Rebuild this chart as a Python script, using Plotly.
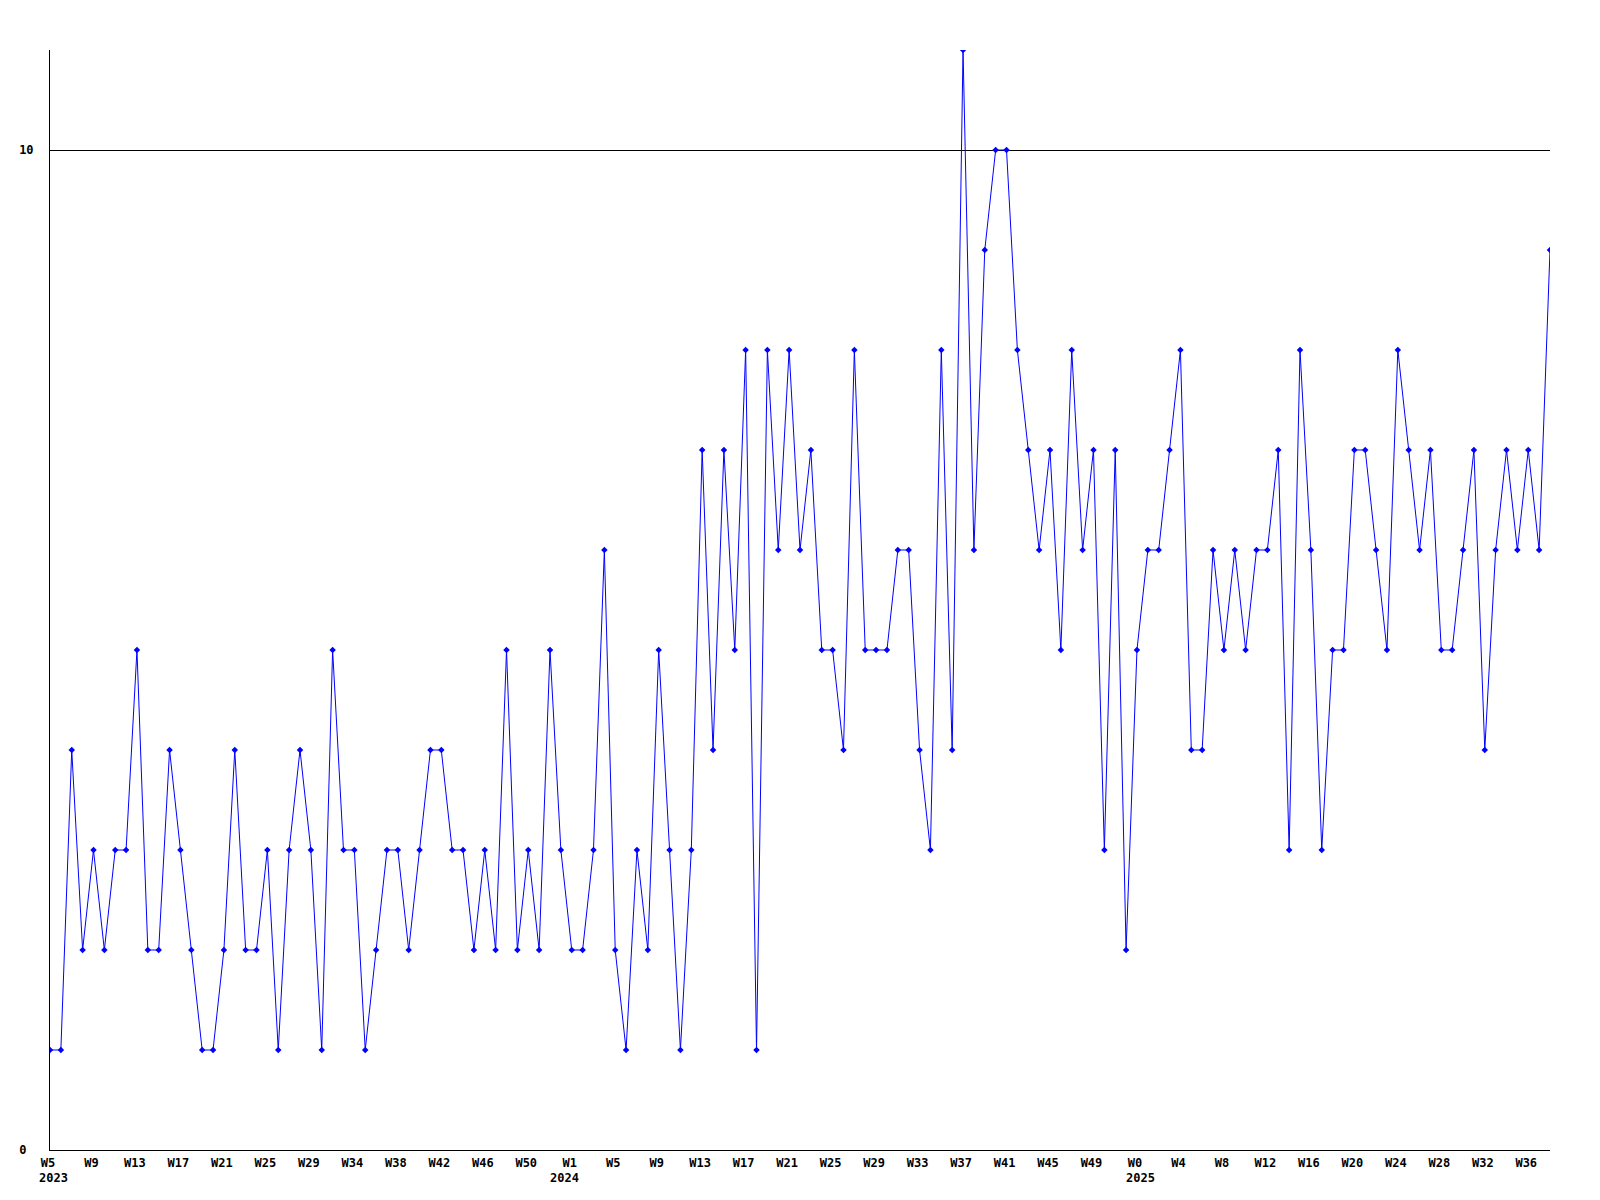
import plotly.graph_objects as go

values = [1, 1, 4, 2, 3, 2, 3, 3, 5, 2,
          2, 4, 3, 2, 1, 1, 2, 4, 2, 2,
          3, 1, 3, 4, 3, 1, 5, 3, 3, 1,
          2, 3, 3, 2, 3, 4, 4, 3, 3, 2,
          3, 2, 5, 2, 3, 2, 5, 3, 2, 2,
          3, 6, 2, 1, 3, 2, 5, 3, 1, 3,
          7, 4, 7, 5, 8, 1, 8, 6, 8, 6,
          7, 5, 5, 4, 8, 5, 5, 5, 6, 6,
          4, 3, 8, 4, 11, 6, 9, 10, 10, 8,
          7, 6, 7, 5, 8, 6, 7, 3, 7, 2,
          5, 6, 6, 7, 8, 4, 4, 6, 5, 6,
          5, 6, 6, 7, 3, 8, 6, 3, 5, 5,
          7, 7, 6, 5, 8, 7, 6, 7, 5, 5,
          6, 7, 4, 6, 7, 6, 7, 6, 9]

tick_labels = ["W5", "W9", "W13", "W17", "W21", "W25", "W29", "W34", "W38",
               "W42", "W46", "W50", "W1", "W5", "W9", "W13", "W17", "W21",
               "W25", "W29", "W33", "W37", "W41", "W45", "W49", "W0", "W4",
               "W8", "W12", "W16", "W20", "W24", "W28", "W32", "W36"]
tick_step = 4

year_labels = ["2023", "2024", "2025"]
year_positions = [0, 47, 100]

y_ticks = [0, 10]
y_tick_text = ["0\u00a0", "10"]

x = list(range(len(values)))
tick_pos = [i * tick_step for i in range(len(tick_labels))]

FONT = "DejaVu Sans Mono"
FS = 12

fig = go.Figure()
fig.add_trace(go.Scatter(
    x=x, y=values, mode="lines+markers",
    line=dict(color="#0000ff", width=1),
    marker=dict(symbol="diamond", size=5, color="#0000ff"),
    showlegend=False, hoverinfo="skip",
))

for lab, pos in zip(year_labels, year_positions):
    fig.add_annotation(
        x=pos, y=0, xref="x", yref="y", text="<b>" + lab + "</b>",
        showarrow=False, xanchor="left", yanchor="top", xshift=-13, yshift=-19,
        font=dict(family=FONT, size=FS, color="black"),
    )

fig.update_layout(
    width=1600, height=1200,
    margin=dict(l=42, r=58, t=42, b=58),
    paper_bgcolor="white", plot_bgcolor="white",
    font=dict(family=FONT, size=FS, color="black"),
    xaxis=dict(
        range=[0, len(values) - 1], showgrid=False, zeroline=False,
        showline=True, linecolor="black", linewidth=1,
        tickmode="array", tickvals=tick_pos,
        ticktext=["<b>" + t + "</b>" for t in tick_labels],
        ticks="", ticklabelstandoff=2, ticklabelshift=-2,
        tickfont=dict(family=FONT, size=FS, color="black"),
    ),
    yaxis=dict(
        range=[0, 11], showgrid=True, gridcolor="black", gridwidth=1,
        zeroline=False, showline=True, linecolor="black", linewidth=1,
        tickmode="array", tickvals=y_ticks,
        ticktext=["<b>" + t + "</b>" for t in y_tick_text],
        ticks="", ticklabelstandoff=13,
        tickfont=dict(family=FONT, size=FS, color="black"),
    ),
)

fig.write_html("out.html")
